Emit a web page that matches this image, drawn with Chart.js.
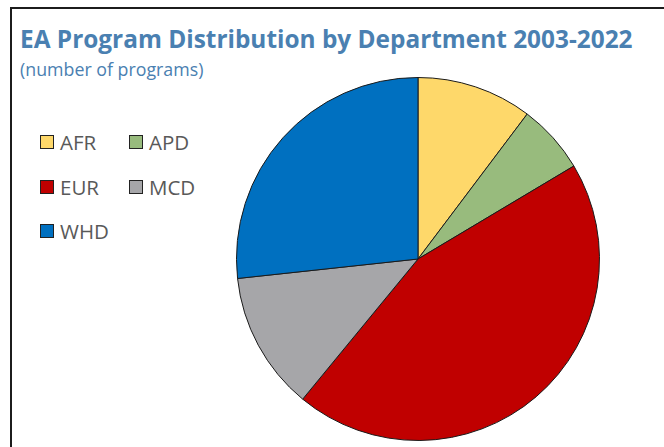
<!DOCTYPE html>
<html lang="en">
<head>
<meta charset="UTF-8">
<title>EA Program Distribution by Department 2003-2022</title>
<script src="https://cdn.jsdelivr.net/npm/chart.js"></script>
<style>
  html, body { margin: 0; padding: 0; background: #fff; }
  body { width: 664px; height: 447px; position: relative; overflow: hidden; font-family: "Open Sans", sans-serif; }
  #frame { position: absolute; left: 10px; top: 7px; width: 700px; height: 500px;
           border-left: 2px solid #1c1c1c; border-top: 2px solid #1c1c1c; }
  #title { position: absolute; left: 20px; top: 22px; margin: 0; font-size: 24.4px; font-weight: 700;
           color: #4a80b1; white-space: nowrap; }
  #subtitle { position: absolute; left: 20px; top: 57px; margin: 0; font-size: 17.8px; color: #4a80b1; white-space: nowrap; }
  #legend { position: absolute; left: 40px; top: 120px; display: grid; grid-template-columns: 89px 89px; }
  .item { display: flex; align-items: center; height: 44.5px; font-size: 20.5px; color: #595959; }
  .box { width: 12px; height: 12px; border: 1px solid #222; margin-right: 6px; }
  #pie { position: absolute; left: 236px; top: 77px; }
</style>
</head>
<body>
<div id="frame"></div>
<h1 id="title">EA Program Distribution by Department 2003-2022</h1>
<p id="subtitle">(number of programs)</p>
<div id="legend"></div>
<canvas id="pie" width="364" height="364"></canvas>

<script>
  // Programs per department, slices run clockwise from 12 o'clock
  const departments = ['AFR', 'APD', 'EUR', 'MCD', 'WHD'];
  const programCounts = [15, 9, 65, 18, 39];
  const sliceColors = ['#fed86a', '#98bb7d', '#c00000', '#a6a6a9', '#0070c0'];

  // Two-column legend built from the same arrays
  const legend = document.getElementById('legend');
  departments.forEach((name, i) => {
    const item = document.createElement('div');
    item.className = 'item';
    const box = document.createElement('span');
    box.className = 'box';
    box.style.background = sliceColors[i];
    item.appendChild(box);
    item.appendChild(document.createTextNode(name));
    legend.appendChild(item);
  });

  new Chart(document.getElementById('pie').getContext('2d'), {
    type: 'pie',
    data: {
      labels: departments,
      datasets: [{
        data: programCounts,
        backgroundColor: sliceColors,
        borderColor: '#1a1a1a',
        borderWidth: 1
      }]
    },
    options: {
      responsive: false,
      animation: false,
      layout: { padding: 0 },
      plugins: {
        legend: { display: false },
        tooltip: { enabled: false }
      }
    }
  });
</script>
</body>
</html>
